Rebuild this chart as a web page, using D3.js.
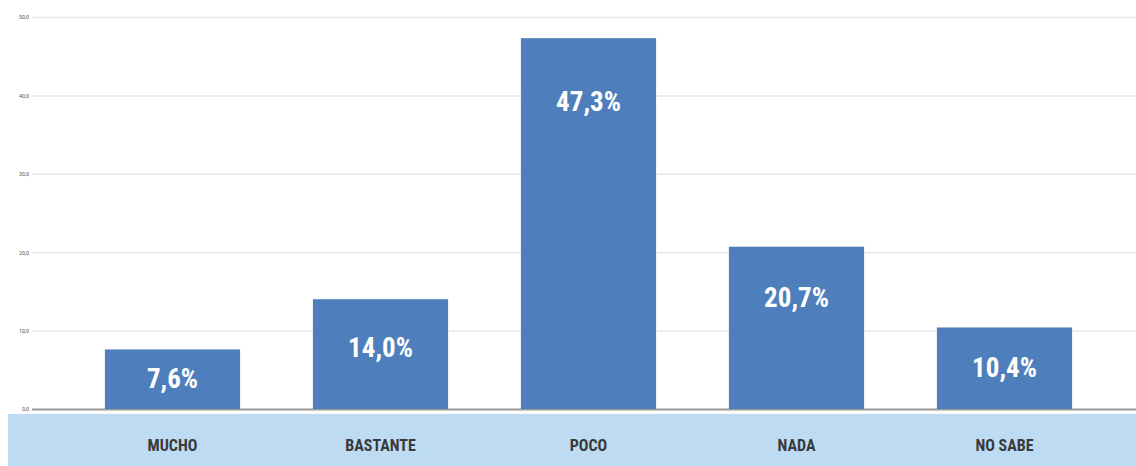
<!DOCTYPE html>
<html><head><meta charset="utf-8">
<script src="https://cdn.jsdelivr.net/npm/d3@7"></script>
<style>body{margin:0;background:#fff}svg{display:block}</style>
</head><body><svg id="c" width="1136" height="466"></svg>
<script>
const categories = ["MUCHO","BASTANTE","POCO","NADA","NO SABE"];
const values = [7.6, 14.0, 47.3, 20.7, 10.4];
const valueLabels = ["7,6%","14,0%","47,3%","20,7%","10,4%"];
const ticks = [0,10,20,30,40,50];
const tickLabels = ["0,0","10,0","20,0","30,0","40,0","50,0"];

const svg = d3.select("#c");
const W = 1136, H = 466;
const x = d3.scaleBand().domain(categories).range([68.5, 1108.5]).paddingInner(0.35).paddingOuter(0.175);
const y = d3.scaleLinear().domain([0,50]).range([409, 17]);
const font = "'Liberation Sans Narrow','Roboto Condensed','Liberation Sans',Arial,sans-serif";

// category band
svg.append("rect").attr("x",8).attr("y",414).attr("width",W-8).attr("height",H-414).attr("fill","#bddcf3");

// gridlines
const yAxis = d3.axisLeft(y).tickValues(ticks).tickFormat((d,i)=>tickLabels[i]).tickSize(-(W-32)).tickPadding(3);
const gA = svg.append("g").attr("transform","translate(32,0)").call(yAxis);
gA.select(".domain").remove();
gA.selectAll(".tick line").attr("stroke",d=>d===0?"#9a9a9a":"#e6e6e6").attr("stroke-width",d=>d===0?2:1.5);
gA.selectAll(".tick text").attr("fill","#555").style("font-family",font).style("font-size","6px");

// bars
svg.append("g").selectAll("rect").data(values).join("rect")
  .attr("x",(d,i)=>x(categories[i])).attr("width",x.bandwidth())
  .attr("y",d=>y(d)).attr("height",d=>y(0)-y(d))
  .attr("fill","#4e7fbc");

// value labels
svg.append("g").selectAll("text").data(values).join("text")
  .attr("x",(d,i)=>x(categories[i])+x.bandwidth()/2)
  .attr("y",d=>{const h=y(0)-y(d);return y(d)+Math.min(h/2,42+0.06*h);})
  .attr("text-anchor","middle").attr("dominant-baseline","central")
  .attr("fill","#fff").style("font-family",font).style("font-weight","bold").style("font-size","27px")
  .text((d,i)=>valueLabels[i]);

// category labels
const xAxis = d3.axisBottom(x).tickSize(0).tickPadding(0);
const gX = svg.append("g").attr("transform","translate(0,440)").call(xAxis);
gX.select(".domain").remove();
gX.selectAll(".tick text").attr("fill","#3a3a3a").style("font-family",font).style("font-weight","bold").style("font-size","16px");
</script></body></html>
